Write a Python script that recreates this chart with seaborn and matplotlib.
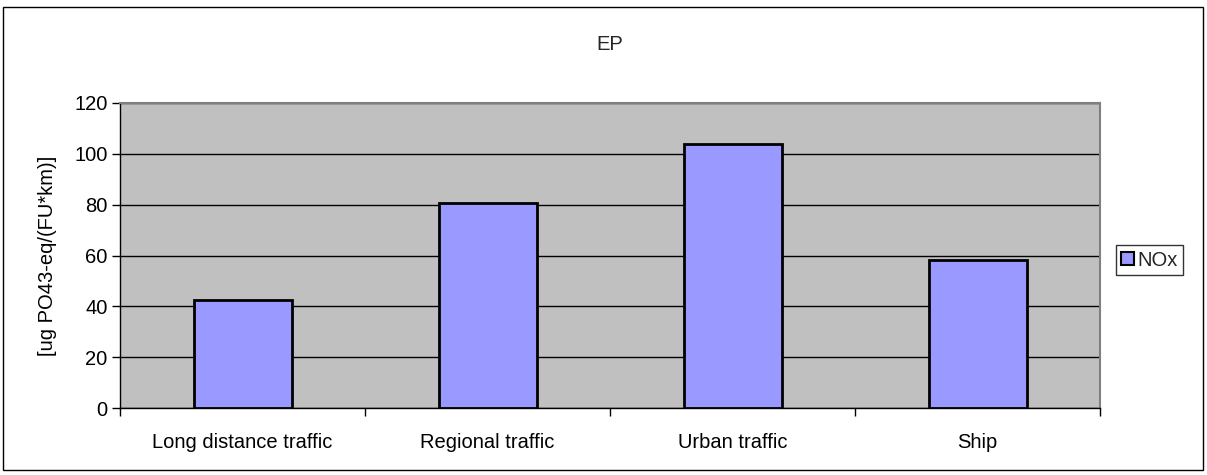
import matplotlib
matplotlib.use("Agg")
import matplotlib.pyplot as plt
from matplotlib.patches import Rectangle
import seaborn as sns
import pandas as pd

# data
categories = ["Long distance traffic", "Regional traffic", "Urban traffic", "Ship"]
nox_values = [42.5, 80.6, 104.0, 58.3]
y_ticks = [0, 20, 40, 60, 80, 100, 120]

df = pd.DataFrame({"category": categories, "value": nox_values})

sns.set_theme(style="white")
plt.rcParams["font.family"] = ["Liberation Sans", "DejaVu Sans"]
fs = 14.5

fig = plt.figure(figsize=(12.07, 4.75), dpi=100)
ax = fig.add_axes([120 / 1207, 1 - 408 / 475, 980 / 1207, 305 / 475])

sns.barplot(data=df, x="category", y="value", color="#9999FF", width=0.4,
            edgecolor="black", linewidth=2, saturation=1, ax=ax, zorder=3)

ax.set_facecolor("#C0C0C0")
ax.set_ylim(0, 120)
ax.set_xlim(-0.5, 3.5)
ax.set_yticks(y_ticks)
ax.yaxis.grid(True, color="black", linewidth=1, zorder=0)
ax.set_axisbelow(True)
for side in ["top", "right"]:
    ax.spines[side].set_color("#808080")
    ax.spines[side].set_linewidth(1.5)
for side in ["left", "bottom"]:
    ax.spines[side].set_color("black")
    ax.spines[side].set_linewidth(1)

ax.tick_params(axis="y", left=True, length=6, width=1, color="black",
               labelsize=fs, pad=3, labelcolor="black")
ax.tick_params(axis="x", bottom=False, labelsize=fs, pad=12, labelcolor="black")
# category separators on the x axis
ax.set_xticks([-0.5, 0.5, 1.5, 2.5, 3.5], minor=True)
ax.tick_params(axis="x", which="minor", bottom=True, length=6, width=1, color="black")

ax.set_xlabel("")
ax.set_ylabel("[ug PO43-eq/(FU*km)]", fontsize=fs, color="black", labelpad=12)
fig.text(610 / 1207, 1 - 45 / 475, "EP", ha="center", va="center", fontsize=fs)

# legend box on the right
handle = Rectangle((0, 0), 1, 1, facecolor="#9999FF", edgecolor="black", linewidth=1.5)
leg = fig.legend([handle], ["NOx"], loc="center left",
                 bbox_to_anchor=(1116 / 1207, 1 - 260 / 475), fontsize=fs,
                 frameon=True, fancybox=False, handlelength=0.65, handleheight=0.65,
                 handletextpad=0.15, borderpad=0.25, borderaxespad=0)
leg.get_frame().set_edgecolor("black")
leg.get_frame().set_linewidth(1)

# outer chart border
fig.patches.append(Rectangle((3 / 1207, 5 / 475), 1200 / 1207, 463 / 475,
                             transform=fig.transFigure, fill=False,
                             edgecolor="black", linewidth=1))

fig.savefig("out.png", dpi=100, facecolor="white")
